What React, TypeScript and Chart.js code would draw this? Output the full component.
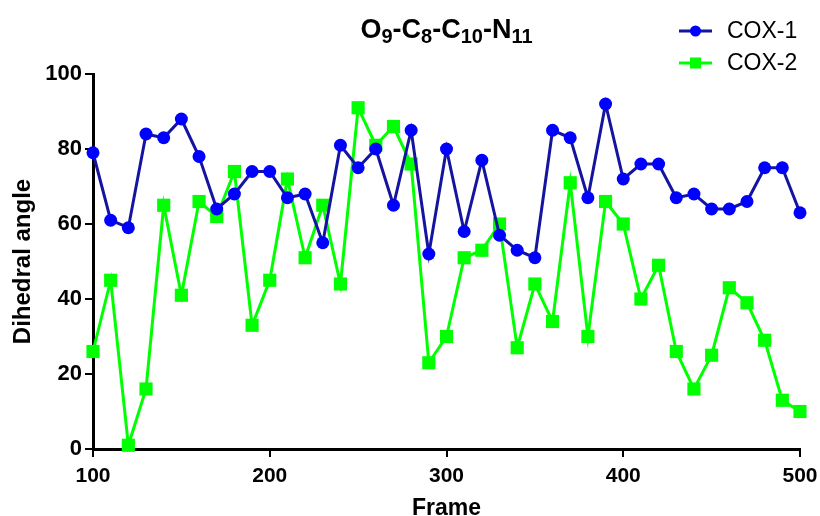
import React, { useEffect, useRef } from "react";
import { Chart, registerables } from "chart.js";

Chart.register(...registerables);

const frames = [100, 110, 120, 130, 140, 150, 160, 170, 180, 190, 200, 210, 220, 230, 240, 250, 260, 270, 280, 290, 300, 310, 320, 330, 340, 350, 360, 370, 380, 390, 400, 410, 420, 430, 440, 450, 460, 470, 480, 490, 500];
const cox1 = [79, 61, 59, 84, 83, 88, 78, 64, 68, 74, 74, 67, 68, 55, 81, 75, 80, 65, 85, 52, 80, 58, 77, 57, 53, 51, 85, 83, 67, 92, 72, 76, 76, 67, 68, 64, 64, 66, 75, 75, 63];
const cox2 = [26, 45, 1, 16, 65, 41, 66, 62, 74, 33, 45, 72, 51, 65, 44, 91, 81, 86, 76, 23, 30, 51, 53, 60, 27, 44, 34, 71, 30, 66, 60, 40, 49, 26, 16, 25, 43, 39, 29, 13, 10];
const xTicks = [100, 200, 300, 400, 500];
const yTicks = [0, 20, 40, 60, 80, 100];
const titleParts: [string, boolean][] = [["O", false], ["9", true], ["-C", false], ["8", true], ["-C", false], ["10", true], ["-N", false], ["11", true]];
const seriesNames = ["COX-1", "COX-2"];

const FONT = "'Liberation Sans', Arial, sans-serif";

const overlay = {
  id: "overlay",
  afterDraw(chart: any) {
    const ctx = chart.ctx;
    const area = chart.chartArea;
    ctx.save();
    const bigFont = `bold 27px ${FONT}`;
    const smallFont = `bold 20px ${FONT}`;
    let total = 0;
    for (const [t, sub] of titleParts) {
      ctx.font = sub ? smallFont : bigFont;
      total += ctx.measureText(t).width;
    }
    let x = (area.left + area.right) / 2 - total / 2;
    const baseY = 38;
    ctx.fillStyle = "#000";
    ctx.textBaseline = "alphabetic";
    ctx.textAlign = "left";
    for (const [t, sub] of titleParts) {
      ctx.font = sub ? smallFont : bigFont;
      ctx.fillText(t, x, sub ? baseY + 5 : baseY);
      x += ctx.measureText(t).width;
    }
    const items = [
      { name: seriesNames[0], line: "#1414a0", fill: "#0000ff", shape: "circle", y: 31 },
      { name: seriesNames[1], line: "#00ff00", fill: "#00ff00", shape: "rect", y: 63 },
    ];
    for (const it of items) {
      ctx.strokeStyle = it.line;
      ctx.lineWidth = 3;
      ctx.beginPath();
      ctx.moveTo(679, it.y);
      ctx.lineTo(712, it.y);
      ctx.stroke();
      ctx.fillStyle = it.fill;
      if (it.shape === "circle") {
        ctx.beginPath();
        ctx.arc(695.5, it.y, 5.5, 0, Math.PI * 2);
        ctx.fill();
      } else {
        ctx.fillRect(690, it.y - 5.5, 11, 11);
      }
      ctx.fillStyle = "#000";
      ctx.font = `23px ${FONT}`;
      ctx.textBaseline = "middle";
      ctx.fillText(it.name, 727, it.y + 1);
    }
    ctx.restore();
  },
};

export default function App() {
  const ref = useRef<HTMLCanvasElement>(null);
  useEffect(() => {
    document.body.style.margin = "0";
    const chart = new Chart(ref.current!, {
      type: "line",
      data: {
        labels: frames,
        datasets: [
          {
            label: seriesNames[0],
            data: frames.map((f, i) => ({ x: f, y: cox1[i] })),
            borderColor: "#1414a0",
            backgroundColor: "#0000ff",
            pointBackgroundColor: "#0000ff",
            pointBorderColor: "#0000ff",
            pointStyle: "circle",
            pointRadius: 6.5,
            pointBorderWidth: 0,
            borderWidth: 3,
            tension: 0,
            clip: false,
          } as any,
          {
            label: seriesNames[1],
            data: frames.map((f, i) => ({ x: f, y: cox2[i] })),
            borderColor: "#00ff00",
            backgroundColor: "#00ff00",
            pointBackgroundColor: "#00ff00",
            pointBorderColor: "#00ff00",
            pointStyle: "rect",
            pointRadius: 9.3,
            pointBorderWidth: 0,
            borderWidth: 3,
            tension: 0,
            clip: false,
          } as any,
        ],
      },
      options: {
        responsive: false,
        animation: false,
        layout: { padding: { top: 74, right: 20, left: 0, bottom: 0 } },
        plugins: { legend: { display: false }, title: { display: false }, tooltip: { enabled: false } },
        scales: {
          x: {
            type: "linear",
            min: 100,
            max: 500,
            afterFit: (s: any) => { s.height = 67; s.paddingLeft = 0; s.paddingRight = 0; },
            afterBuildTicks: (s: any) => { s.ticks = xTicks.map((v) => ({ value: v })); },
            border: { display: true, color: "#000", width: 3 },
            grid: { display: true, drawOnChartArea: false, drawTicks: true, tickLength: 8, color: "#000", lineWidth: 2 },
            ticks: { color: "#000", padding: 7, font: { family: FONT, size: 21, weight: "bold" }, maxRotation: 0 },
            title: { display: true, text: "Frame", color: "#000", font: { family: FONT, size: 23, weight: "bold", lineHeight: 1 }, padding: { top: 0, bottom: -4 } },
          },
          y: {
            min: 0,
            max: 100,
            afterFit: (s: any) => { s.width = 93; s.paddingTop = 0; s.paddingBottom = 0; },
            afterBuildTicks: (s: any) => { s.ticks = yTicks.map((v) => ({ value: v })); },
            border: { display: true, color: "#000", width: 3 },
            grid: { display: true, drawOnChartArea: false, drawTicks: true, tickLength: 8, color: "#000", lineWidth: 2 },
            ticks: { color: "#000", padding: 3, font: { family: FONT, size: 22, weight: "bold" } },
            title: { display: true, text: "Dihedral angle", color: "#000", font: { family: FONT, size: 24, weight: "bold", lineHeight: 1.2 }, padding: { top: 9, bottom: 0 } },
          },
        },
      } as any,
      plugins: [overlay],
    });
    return () => chart.destroy();
  }, []);
  return <canvas ref={ref} width={820} height={516} style={{ display: "block" }} />;
}
